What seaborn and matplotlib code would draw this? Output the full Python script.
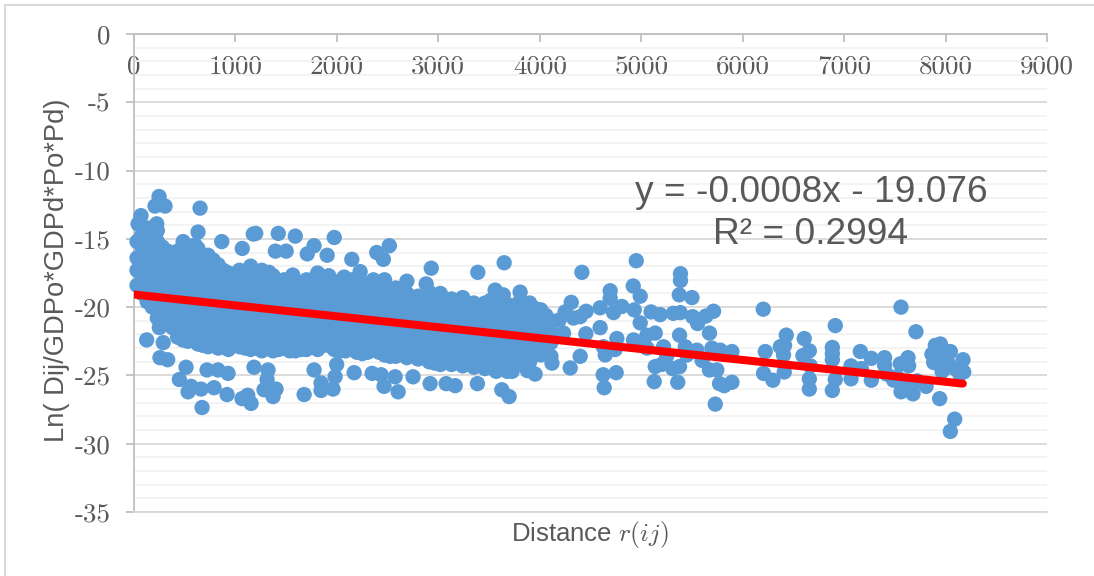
import pandas as pd
import matplotlib
matplotlib.use('Agg')
import matplotlib.pyplot as plt
from matplotlib.patches import Rectangle
import seaborn as sns

# === Значения ===
x_ticks = [0, 1000, 2000, 3000, 4000, 5000, 6000, 7000, 8000, 9000]
y_ticks = [0, -5, -10, -15, -20, -25, -30, -35]

# плотное облако: столбцы по расстоянию
core_dist = [30, 130, 230, 330, 430, 530, 630, 730, 830, 930, 1040, 1150, 1260,
             1370, 1480, 1590, 1700, 1810, 1920, 2030, 2140, 2250, 2360, 2470,
             2580, 2690, 2800, 2910, 3020, 3130, 3240, 3350, 3460, 3570, 3680,
             3790, 3900, 4010, 4110]
core_ln = [
    [-15.2, -16.4, -17.3, -18.4],
    [-14.2, -15.0, -15.9, -16.7, -17.6, -18.4, -19.6],
    [-14.4, -15.2, -16.1, -17.0, -17.9, -18.7, -19.6, -20.8],
    [-15.9, -16.7, -17.5, -18.4, -19.2, -20.1, -21.0],
    [-15.9, -16.8, -17.7, -18.6, -19.4, -20.3, -21.2, -22.2],
    [-15.5, -16.3, -17.2, -18.1, -19.0, -19.8, -20.7, -21.6, -22.5],
    [-15.7, -16.7, -17.6, -18.5, -19.3, -20.2, -21.1, -21.9, -22.7],
    [-16.2, -17.1, -18.0, -18.9, -19.8, -20.6, -21.4, -22.2, -22.9],
    [-16.9, -17.7, -18.5, -19.3, -20.2, -21.0, -21.8, -22.5, -23.0],
    [-17.5, -18.3, -19.1, -19.9, -20.7, -21.5, -22.3, -23.1],
    [-17.3, -18.1, -18.9, -19.7, -20.5, -21.3, -22.1, -22.9],
    [-17.0, -17.8, -18.6, -19.4, -20.3, -21.1, -21.9, -22.6, -23.1],
    [-17.3, -18.2, -19.0, -19.8, -20.7, -21.5, -22.4, -23.2],
    [-17.7, -18.5, -19.3, -20.2, -21.0, -21.8, -22.6, -23.2],
    [-18.0, -18.9, -19.7, -20.5, -21.4, -22.2, -23.0],
    [-18.1, -18.8, -19.6, -20.4, -21.2, -22.0, -22.7, -23.2],
    [-18.0, -18.9, -19.7, -20.6, -21.4, -22.3, -23.1],
    [-17.5, -18.3, -19.1, -20.0, -20.8, -21.6, -22.4, -23.1],
    [-17.7, -18.6, -19.4, -20.3, -21.1, -22.0, -22.8],
    [-18.1, -18.9, -19.7, -20.5, -21.3, -22.1, -22.8, -23.2],
    [-18.0, -18.9, -19.7, -20.6, -21.4, -22.2, -23.0],
    [-18.2, -19.0, -19.8, -20.6, -21.4, -22.2, -22.9, -23.4],
    [-18.0, -18.9, -19.7, -20.5, -21.4, -22.2, -23.0],
    [-18.0, -18.8, -19.6, -20.4, -21.2, -22.0, -22.8, -23.5],
    [-18.6, -19.4, -20.2, -21.0, -21.9, -22.7, -23.6],
    [-19.0, -19.8, -20.6, -21.4, -22.2, -23.0, -23.7],
    [-19.2, -20.0, -20.9, -21.7, -22.5, -23.3, -23.8],
    [-18.9, -19.7, -20.5, -21.3, -22.1, -22.9, -23.5, -24.0],
    [-19.0, -19.9, -20.7, -21.5, -22.4, -23.3, -24.2],
    [-19.4, -20.2, -21.0, -21.8, -22.6, -23.4, -24.2],
    [-19.3, -20.1, -20.9, -21.8, -22.6, -23.5, -24.3],
    [-19.7, -20.5, -21.3, -22.1, -22.9, -23.7, -24.4],
    [-19.7, -20.6, -21.4, -22.3, -23.2, -24.0, -24.5],
    [-19.0, -19.8, -20.6, -21.4, -22.2, -23.0, -23.9, -24.7],
    [-19.8, -20.6, -21.4, -22.3, -23.1, -23.9, -24.7],
    [-19.7, -20.5, -21.3, -22.1, -22.9, -23.6, -24.2],
    [-19.7, -20.5, -21.3, -22.1, -22.9, -23.5, -24.0],
    [-20.2, -21.0, -21.8, -22.6, -23.5],
    [-21.0, -21.8, -22.6, -23.6],
]

# промежуточные столбцы облака
core2_dist = [80, 180, 280, 380, 480, 580, 680, 780, 880, 985, 1095, 1205, 1315,
              1425, 1535, 1645, 1755, 1865, 1975, 2085, 2195, 2305, 2415, 2525,
              2635, 2745, 2855, 2965, 3075, 3185, 3295, 3405, 3515, 3625, 3735,
              3845, 3955, 4060]
core2_ln = [
    [-14.7, -15.6, -16.5, -17.3, -18.1, -19.0],
    [-14.8, -15.6, -16.5, -17.4, -18.2, -19.1, -20.0],
    [-15.6, -16.4, -17.2, -18.1, -18.9, -19.8, -20.6, -21.2],
    [-16.3, -17.1, -18.0, -18.9, -19.7, -20.6, -21.5],
    [-15.6, -16.4, -17.3, -18.1, -19.0, -19.9, -20.8, -21.7, -22.4],
    [-15.9, -16.8, -17.6, -18.5, -19.4, -20.3, -21.2, -22.1],
    [-16.3, -17.2, -18.1, -18.9, -19.7, -20.6, -21.5, -22.3, -22.8],
    [-16.7, -17.5, -18.4, -19.3, -20.2, -21.0, -21.8, -22.6],
    [-17.3, -18.1, -18.9, -19.7, -20.6, -21.4, -22.2, -22.9],
    [-17.8, -18.6, -19.4, -20.2, -21.0, -21.8, -22.6],
    [-17.4, -18.2, -19.0, -19.9, -20.7, -21.5, -22.3, -23.0],
    [-17.5, -18.3, -19.1, -20.0, -20.8, -21.6, -22.4, -23.0],
    [-17.9, -18.7, -19.5, -20.3, -21.2, -22.0, -22.8],
    [-18.2, -19.0, -19.8, -20.6, -21.5, -22.3, -23.1],
    [-18.5, -19.3, -20.1, -21.0, -21.8, -22.6, -23.2],
    [-18.5, -19.2, -20.0, -20.8, -21.6, -22.4, -23.1],
    [-18.0, -18.8, -19.5, -20.3, -21.1, -21.9, -22.7],
    [-17.9, -18.7, -19.6, -20.4, -21.2, -22.0, -22.8],
    [-18.3, -19.1, -19.9, -20.7, -21.5, -22.4, -23.1],
    [-18.5, -19.3, -20.1, -20.9, -21.7, -22.5, -23.2],
    [-18.6, -19.4, -20.2, -21.0, -21.8, -22.6, -23.3],
    [-18.5, -19.3, -20.1, -21.0, -21.8, -22.6, -23.3],
    [-18.4, -19.2, -20.0, -20.8, -21.6, -22.4, -23.3],
    [-19.0, -19.8, -20.6, -21.4, -22.3, -23.1, -23.6],
    [-19.3, -20.1, -20.9, -21.7, -22.5, -23.3],
    [-19.5, -20.3, -21.1, -21.9, -22.7, -23.5],
    [-19.6, -20.4, -21.2, -22.0, -22.8, -23.6],
    [-19.3, -20.1, -20.9, -21.7, -22.6, -23.4, -24.1],
    [-19.5, -20.3, -21.1, -21.9, -22.8, -23.6],
    [-19.8, -20.6, -21.4, -22.2, -23.0, -23.8],
    [-19.7, -20.5, -21.4, -22.2, -23.0, -23.9],
    [-20.1, -20.9, -21.7, -22.5, -23.3, -24.1],
    [-19.5, -20.2, -21.0, -21.8, -22.7, -23.5, -24.3],
    [-19.4, -20.2, -21.0, -21.8, -22.6, -23.4, -24.3],
    [-20.2, -21.0, -21.8, -22.6, -23.4, -24.3],
    [-20.1, -20.9, -21.7, -22.5, -23.3, -23.9],
    [-20.1, -20.9, -21.7, -22.5, -23.2],
    [-20.6, -21.4, -22.2, -23.1],
]

# верхние выбросы слева
upper_dist = [247, 306, 207, 651, 69, 40, 224, 631, 865, 1176, 1200, 1422, 1590,
              1974, 2517, 1775, 2393, 2458, 1904, 2147, 1394, 1500, 1067, 1708,
              2930, 2229, 2690, 2880, 2071, 1565, 1331, 897, 780, 484, 601]
upper_ln = [-11.9, -12.6, -12.6, -12.75, -13.3, -13.9, -13.9, -14.5, -15.2, -14.65,
            -14.6, -14.6, -14.8, -14.9, -15.5, -15.5, -16.0, -16.5, -16.2, -16.5,
            -15.9, -15.9, -15.7, -16.1, -17.15, -17.4, -18.1, -18.3, -17.8, -17.65,
            -17.45, -17.4, -16.55, -15.2, -15.45]

# нижние выбросы слева
lower_dist = [125, 288, 250, 256, 332, 513, 447, 533, 562, 661, 671, 720, 828, 927,
              789, 917, 1065, 1121, 1154, 1183, 1321, 1312, 1282, 1400, 1371, 1677,
              1775, 1844, 1844, 1962, 1982, 1998, 2170, 2347, 2436, 2465, 2574, 2604,
              2751, 2919, 3077, 3166]
lower_ln = [-22.4, -22.6, -21.5, -23.7, -23.85, -24.4, -25.3, -26.2, -25.8, -26.0,
            -27.35, -24.6, -24.6, -24.85, -25.9, -26.4, -26.7, -26.45, -27.05, -24.4,
            -24.6, -25.3, -26.05, -26.0, -26.55, -26.4, -24.6, -25.55, -26.1, -26.0,
            -25.1, -24.2, -24.8, -24.85, -24.95, -25.8, -25.1, -26.2, -25.1, -25.6,
            -25.6, -25.75]

# середина графика
mid_dist = [3649, 3389, 4415, 4951, 5387, 5387, 5375, 5500, 4921, 4990, 4694, 6203,
            5713, 5638, 5556, 5507, 5316, 5385, 5187, 5097, 4990, 4931, 4809, 4727,
            4595, 4694, 4457, 4398, 4333, 4310, 4250, 4191, 4595, 4454, 4234, 5673,
            5378, 4760, 5056, 5138, 4924, 4743, 4645, 4626, 4398, 4300, 4120, 3954,
            3879, 3727, 4625, 4753, 4635, 5128, 5138, 5201, 5360, 5378, 5310, 3385,
            3626, 3698, 5673, 5745, 5772, 5818, 5894, 5730, 5894, 5697, 5779, 5549,
            5434, 5220, 5056, 3560, 3640, 3806, 3740, 5000, 5250, 5450, 5600]
mid_ln = [-16.75, -17.45, -17.45, -16.6, -17.55, -18.05, -19.1, -19.3, -18.45, -19.2,
          -18.8, -20.15, -20.3, -20.65, -21.2, -20.7, -20.45, -20.4, -20.55, -20.35,
          -21.15, -20.2, -19.95, -20.4, -20.05, -19.35, -20.3, -20.7, -20.8, -19.65,
          -20.35, -20.95, -21.5, -21.95, -21.9, -21.9, -22.05, -22.3, -22.05, -21.9,
          -22.4, -23.1, -23.5, -22.9, -23.6, -24.45, -24.1, -24.9, -24.65, -24.7,
          -24.95, -24.8, -25.9, -25.45, -24.35, -24.2, -25.5, -24.35, -24.5, -25.6,
          -26.05, -26.55, -24.6, -24.6, -25.6, -25.75, -25.5, -27.1, -23.25, -23.0,
          -23.15, -23.15, -22.9, -22.9, -23.0, -18.75, -19.1, -18.9, -20.57, -22.6,
          -23.6, -23.5, -23.9]

# правый хвост
far_dist = [6223, 6206, 6298, 6371, 6430, 6413, 6403, 6410, 6607, 6657, 6594, 6667,
            6657, 6657, 6913, 6884, 6884, 6913, 6884, 7068, 7068, 7160, 7268, 7268,
            7399, 7399, 7488, 7561, 7679, 7561, 7708, 7630, 7554, 7636, 7808, 7942,
            8090, 8047, 7899, 7949, 7866, 8047, 7883, 7974, 8172, 8179, 7965, 8080,
            8140, 7949, 8014, 6884, 7170, 7420, 7520, 7600, 7720]
far_ln = [-23.25, -24.85, -25.35, -22.9, -22.05, -22.8, -23.5, -24.75, -22.3, -23.2,
          -23.55, -24.3, -25.25, -26.0, -21.35, -22.95, -23.85, -25.3, -26.1, -24.3,
          -25.25, -23.25, -23.75, -25.35, -23.7, -24.25, -25.35, -26.2, -26.35, -20.0,
          -21.8, -23.7, -24.15, -24.3, -25.8, -26.7, -28.2, -29.1, -22.8, -22.7,
          -23.45, -23.25, -24.05, -24.1, -23.85, -24.75, -24.7, -24.45, -24.9, -23.5,
          -23.85, -23.4, -24.5, -24.9, -25.1, -25.6, -25.4]

# линия тренда
trend_dist = [0, 8170]
trend_ln = [-19.076, -25.6]

# === Сборка таблицы ===
rows = []
for d, vals in zip(core_dist + core2_dist, core_ln + core2_ln):
    for v in vals:
        rows.append((d, v))
rows += list(zip(upper_dist, upper_ln))
rows += list(zip(lower_dist, lower_ln))
rows += list(zip(mid_dist, mid_ln))
rows += list(zip(far_dist, far_ln))
df = pd.DataFrame(rows, columns=['dist', 'ln'])

sns.set_theme(style='white')
plt.rcParams['font.family'] = ['Liberation Sans', 'DejaVu Sans']
plt.rcParams['mathtext.fontset'] = 'cm'
plt.rcParams['axes.unicode_minus'] = False

W, H = 1094, 576
fig = plt.figure(figsize=(W / 100, H / 100), dpi=100)
ax = fig.add_axes([134 / W, 1 - 512 / H, 913 / W, 478 / H])

# Рамка всей диаграммы
fig.add_artist(Rectangle((5 / W, -0.05), 1.2, 1.05 - 5 / H, transform=fig.transFigure,
                         fill=False, edgecolor='#d9d9d9', linewidth=1.5))

sns.scatterplot(data=df, x='dist', y='ln', color='#5b9bd5', s=122, linewidth=0,
                edgecolor='none', alpha=1, ax=ax, zorder=3, clip_on=False)
sns.lineplot(x=trend_dist, y=trend_ln, color='#ff0000', linewidth=5.8, ax=ax,
             zorder=4, solid_capstyle='round', errorbar=None)

ax.set_xlim(0, 9000)
ax.set_ylim(-35, 0)
ax.set_yticks(y_ticks)
ax.set_yticks([v for v in range(-35, 0) if v % 5 != 0], minor=True)
ax.set_xticks(x_ticks)
ax.set_xticklabels([str(v) for v in x_ticks], fontfamily='cmr10', fontsize=19.5, color='#595959')
ax.set_yticklabels([str(v) for v in y_ticks], fontfamily='cmr10', fontsize=19.5, color='#595959')

# Ось X проходит сверху, подписи под ней
ax.tick_params(axis='x', bottom=False, labelbottom=False, top=True, labeltop=True,
               direction='in', length=6, width=1.3, color='#bfbfbf', pad=-32)
ax.tick_params(axis='y', which='major', left=True, direction='out', length=5.8, width=1.3,
               color='#bfbfbf', pad=11)
ax.tick_params(axis='y', which='minor', left=False)

ax.grid(axis='y', which='major', color='#d9d9d9', linewidth=1.3, zorder=0)
ax.grid(axis='y', which='minor', color='#f2f2f2', linewidth=1.3, zorder=0)
ax.grid(axis='x', visible=False)
ax.set_axisbelow(True)

ax.spines['right'].set_visible(False)
ax.spines['left'].set_color('#bfbfbf')
ax.spines['top'].set_color('#bfbfbf')
ax.spines['bottom'].set_color('#d9d9d9')
for side in ['left', 'top', 'bottom']:
    ax.spines[side].set_linewidth(1.3)

ax.set_xlabel('')
ax.set_ylabel('')
fig.text(590 / W, 1 - 535 / H, r'Distance $r(ij)$', ha='center', va='center',
         fontsize=18.5, color='#595959')
fig.text(57 / W, 1 - 270 / H, 'Ln( Dij/GDPo*GDPd*Po*Pd)', rotation=90, ha='center',
         va='center', fontsize=19.7, color='#595959')
fig.text(811 / W, 1 - 193 / H, 'y = -0.0008x - 19.076', ha='center', va='center',
         fontsize=26.7, color='#595959')
fig.text(811 / W, 1 - 235 / H, 'R² = 0.2994', ha='center', va='center',
         fontsize=26.7, color='#595959')

fig.savefig('out.png', dpi=100)
